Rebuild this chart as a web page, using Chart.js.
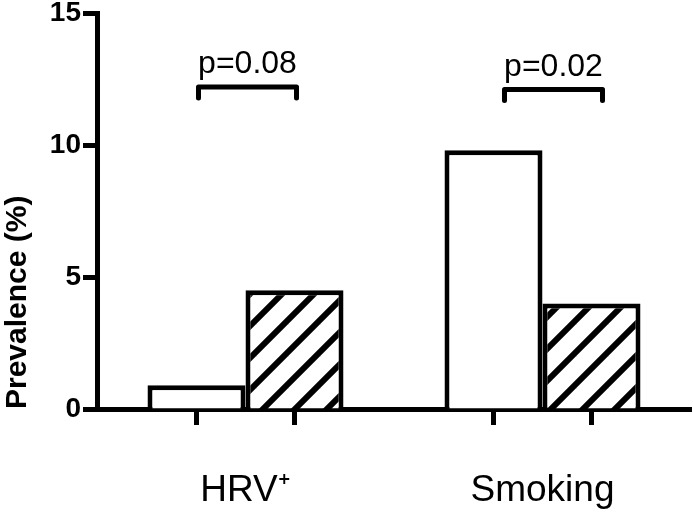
<!DOCTYPE html>
<html><head><meta charset="utf-8">
<script src="https://cdn.jsdelivr.net/npm/chart.js@4/dist/chart.umd.min.js"></script>
<style>html,body{margin:0;padding:0;background:#fff;}</style>
</head><body>
<canvas id="c" width="693" height="514"></canvas>
<script>
const categories = ['HRV\u207A', 'Smoking'];
const openValues = [0.9, 9.8];
const hatchedValues = [4.5, 4.0];
const yTicks = [0, 5, 10, 15];
const pLabels = ['p=0.08', 'p=0.02'];
const bracketLevels = [12.2, 12.1];

const FONT = '"Liberation Sans", Arial, sans-serif';

function hatch() {
  const s = 32;
  const c = document.createElement('canvas');
  c.width = s; c.height = s;
  const g = c.getContext('2d');
  g.fillStyle = '#fff'; g.fillRect(0, 0, s, s);
  g.strokeStyle = '#000'; g.lineWidth = 6;
  for (const k of [-1, 0, 1]) {
    g.beginPath(); g.moveTo(k * s - 3, s + 3); g.lineTo(k * s + s + 3, -3); g.stroke();
  }
  return g.createPattern(c, 'repeat');
}

const bracketDx = [2, 11];
const annot = {
  id: 'annot',
  afterDraw(chart) {
    const ctx = chart.ctx;
    const y = chart.scales.y;
    const m0 = chart.getDatasetMeta(0), m1 = chart.getDatasetMeta(1);
    const bottom = chart.chartArea.bottom;
    ctx.save();
    ctx.strokeStyle = '#000'; ctx.fillStyle = '#000';
    ctx.lineWidth = 5;
    [m0, m1].forEach(m => m.data.forEach(el => {
      ctx.beginPath(); ctx.moveTo(el.x, bottom); ctx.lineTo(el.x, bottom + 16); ctx.stroke();
    }));
    categories.forEach((c, i) => {
      const x1 = m0.data[i].x + bracketDx[i], x2 = m1.data[i].x + bracketDx[i];
      const yb = y.getPixelForValue(bracketLevels[i]);
      ctx.lineWidth = 5; ctx.lineCap = 'round'; ctx.lineJoin = 'round';
      ctx.beginPath(); ctx.moveTo(x1, yb + 11); ctx.lineTo(x1, yb); ctx.lineTo(x2, yb); ctx.lineTo(x2, yb + 11); ctx.stroke();
      ctx.font = '32px ' + FONT; ctx.textAlign = 'center'; ctx.textBaseline = 'alphabetic';
      ctx.fillText(pLabels[i], (x1 + x2) / 2, yb - 14);
    });
    ctx.restore();
  }
};

new Chart(document.getElementById('c'), {
  type: 'bar',
  data: {
    labels: categories,
    datasets: [
      { label: 'open', data: openValues, backgroundColor: '#fff', borderColor: '#000', borderWidth: 5,
        categoryPercentage: 0.66, barPercentage: 1.0 },
      { label: 'hatched', data: hatchedValues, backgroundColor: hatch(), borderColor: '#000', borderWidth: 5,
        categoryPercentage: 0.66, barPercentage: 1.0 }
    ]
  },
  options: {
    responsive: false,
    animation: false,
    devicePixelRatio: 1,
    layout: { padding: { top: 13, right: 2, left: 0, bottom: 0 } },
    plugins: { legend: { display: false }, tooltip: { enabled: false } },
    scales: {
      x: {
        grid: { display: false, drawTicks: false, drawOnChartArea: false },
        border: { display: true, width: 5, color: '#000' },
        ticks: { color: '#000', font: { family: FONT, size: 37 }, padding: 60 },
        afterFit(s) { s.height = 105; }
      },
      y: {
        min: 0, max: 15,
        afterBuildTicks(s) { s.ticks = yTicks.map(v => ({ value: v })); },
        grid: { drawOnChartArea: false, drawTicks: true, tickLength: 14, tickWidth: 5, tickColor: '#000' },
        border: { display: true, width: 5, color: '#000' },
        ticks: { color: '#000', font: { family: FONT, size: 28, weight: 'bold', lineHeight: 0.9 }, padding: 2 },
        title: { display: true, align: 'start', text: 'Prevalence (%)', color: '#000', font: { family: FONT, size: 30, weight: 'bold' }, padding: 0 },
        afterFit(s) { s.width = 97; s.paddingTop = 0; s.paddingBottom = 0; }
      }
    }
  },
  plugins: [annot]
});
</script>
</body></html>
